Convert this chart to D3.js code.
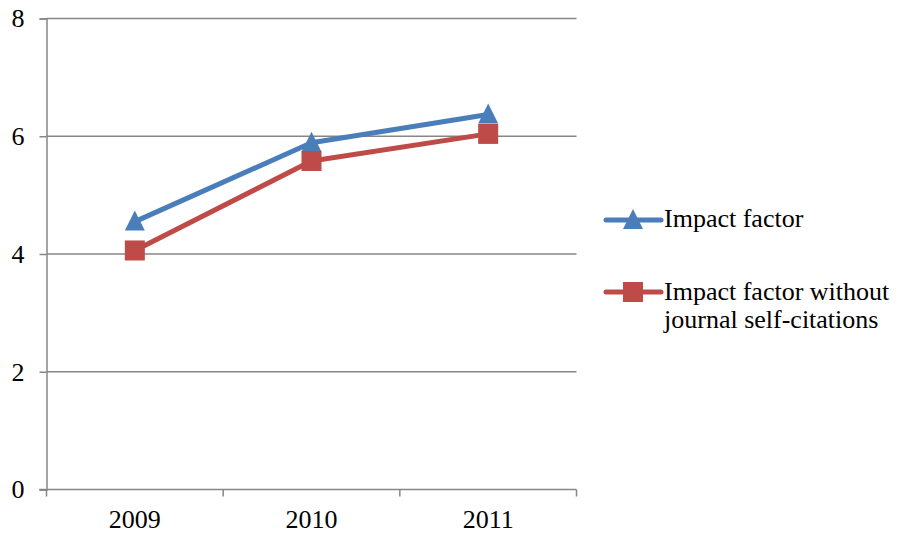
<!DOCTYPE html>
<html>
<head>
<meta charset="utf-8">
<script src="https://cdn.jsdelivr.net/npm/d3@7"></script>
<style>
  html, body { margin: 0; padding: 0; background: #fff; }
  svg { display: block; }
</style>
</head>
<body>
<svg id="chart" width="898" height="533"></svg>
<script>
// Journal impact factor by year
const years = ["2009", "2010", "2011"];
const impactFactor = [4.55, 5.89, 6.37];
const impactNoSelf = [4.06, 5.58, 6.04];
const yTicks = [0, 2, 4, 6, 8];
const seriesNames = ["Impact factor", ["Impact factor without", "journal self-citations"]];

const svg = d3.select("#chart");
const plotLeft = 46.5, plotRight = 576.5, plotTop = 18.5, plotBottom = 489.5;
const serif = "Liberation Serif";
const fontSize = 26;

const x = d3.scaleBand().domain(years).range([plotLeft, plotRight]);
const y = d3.scaleLinear().domain([0, 8]).range([plotBottom, plotTop]);
const grey = "#868686";

// horizontal gridlines
svg.append("g").selectAll("line").data(yTicks.filter(d => d > 0)).join("line")
  .attr("x1", plotLeft).attr("x2", plotRight)
  .attr("y1", d => y(d)).attr("y2", d => y(d))
  .attr("stroke", grey).attr("stroke-width", 1.5);

// y axis
const yAxis = svg.append("g").attr("transform", `translate(${plotLeft},0)`)
  .call(d3.axisLeft(y).tickValues(yTicks).tickSize(7).tickPadding(15).tickFormat(d3.format("d")));
yAxis.attr("font-family", null).attr("font-size", null);
yAxis.select(".domain").attr("stroke", grey).attr("stroke-width", 1.5);
yAxis.selectAll(".tick line").attr("stroke", grey).attr("stroke-width", 1.5);
yAxis.selectAll("text").attr("fill", "#000").attr("dy", "0.32em")
  .style("font-family", serif).style("font-size", fontSize + "px");

// x axis with ticks at category boundaries
const xAxisG = svg.append("g").attr("transform", `translate(0,${plotBottom})`);
xAxisG.append("line").attr("x1", plotLeft - 7).attr("x2", plotRight).attr("y1", 0).attr("y2", 0)
  .attr("stroke", grey).attr("stroke-width", 1.5);
const bounds = years.map(d => x(d)).concat([plotRight]);
xAxisG.selectAll("line.tk").data(bounds).join("line").attr("class", "tk")
  .attr("x1", d => d).attr("x2", d => d).attr("y1", 0).attr("y2", 7)
  .attr("stroke", grey).attr("stroke-width", 1.5);
xAxisG.selectAll("text").data(years).join("text")
  .attr("x", d => x(d) + x.bandwidth() / 2).attr("y", 38.5)
  .attr("text-anchor", "middle").attr("fill", "#000")
  .style("font-family", serif).style("font-size", fontSize + "px")
  .text(d => d);

const cx = d => x(d) + x.bandwidth() / 2;
const line = d3.line().x(d => cx(d.year)).y(d => y(d.v));

const series = [
  { values: impactFactor, color: "#4a7ebb", marker: "tri" },
  { values: impactNoSelf, color: "#be4b48", marker: "sq" }
];

function drawMarker(g, kind, color) {
  if (kind === "tri") {
    g.append("path").attr("d", "M0,-11 L10,9 L-10,9 Z").attr("fill", color);
  } else {
    g.append("rect").attr("x", -10).attr("y", -10).attr("width", 20).attr("height", 20).attr("fill", color);
  }
}

// lines first, markers on top
[series[1], series[0]].forEach(s => {
  const pts = years.map((yr, i) => ({ year: yr, v: s.values[i] }));
  svg.append("path").datum(pts).attr("d", line)
    .attr("fill", "none").attr("stroke", s.color).attr("stroke-width", 5)
    .attr("stroke-linejoin", "round");
});
[series[0], series[1]].forEach(s => {
  years.forEach((yr, i) => {
    const g = svg.append("g").attr("transform", `translate(${cx(yr)},${y(s.values[i])})`);
    drawMarker(g, s.marker, s.color);
  });
});

// legend
const legendRows = [
  { ly: 220, textY: 227, color: series[0].color, marker: "tri", lines: [seriesNames[0]] },
  { ly: 292, textY: 300, color: series[1].color, marker: "sq", lines: seriesNames[1] }
];
legendRows.forEach(r => {
  svg.append("line").attr("x1", 606).attr("x2", 661).attr("y1", r.ly).attr("y2", r.ly)
    .attr("stroke", r.color).attr("stroke-width", 5).attr("stroke-linecap", "round");
  const g = svg.append("g").attr("transform", `translate(633,${r.ly})`);
  drawMarker(g, r.marker, r.color);
  const t = svg.append("text").attr("x", 664).attr("y", r.textY).attr("fill", "#000")
    .style("font-family", serif).style("font-size", fontSize + "px");
  r.lines.forEach((ln, i) => {
    t.append("tspan").attr("x", 664).attr("dy", i === 0 ? 0 : 28).text(ln);
  });
});
</script>
</body>
</html>
